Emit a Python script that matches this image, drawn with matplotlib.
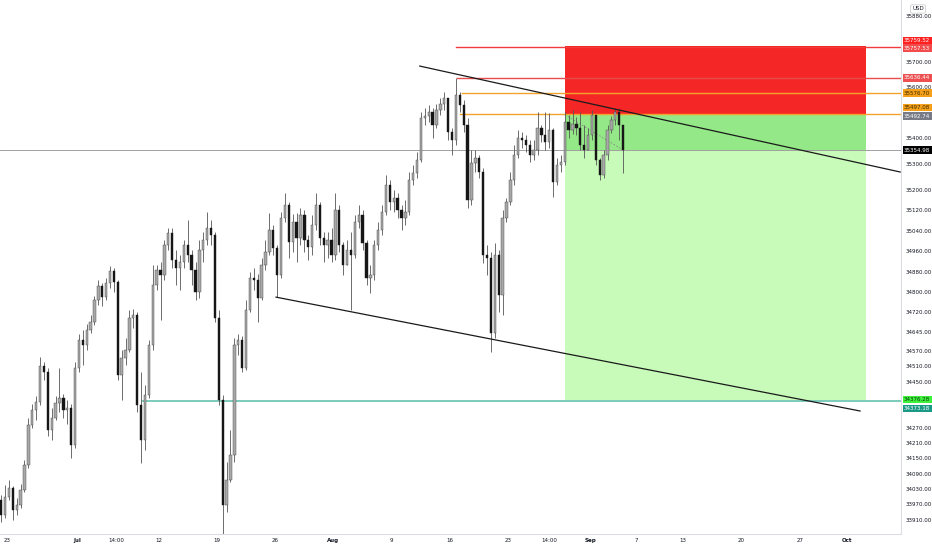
import matplotlib
matplotlib.use("Agg")
import matplotlib.pyplot as plt
import numpy as np

# 8h-ish candles, x axis in trading days counted from Jun 23
first_open = 33987
closes = [
    33928, 33999, 34034, 33948, 33967, 34026, 34124, 34280, 34339, 34370,
    34511, 34487, 34261, 34307, 34366, 34386, 34339, 34347, 34202, 34503,
    34612, 34593, 34651, 34683, 34769, 34823, 34780, 34835, 34882, 34839,
    34476, 34542, 34573, 34698, 34710, 34358, 34221, 34397, 34593, 34827,
    34886, 34866, 34984, 35030, 34925, 34894, 34917, 34984, 34944, 34886,
    34800, 34964, 35003, 35050, 35023, 34698, 34378, 33967, 34065, 34163,
    34593, 34612, 34503, 34730, 34855, 34847, 34776, 34905, 34956, 35042,
    34972, 34866, 35089, 35140, 34995, 35073, 35011, 35101, 35003, 34976,
    35062, 35140, 35011, 34984, 35003, 34944, 35120, 34984, 34905, 34964,
    34944, 35073, 35101, 34991, 34855, 34866, 34984, 35042, 35112, 35218,
    35152, 35167, 35120, 35089, 35112, 35238, 35265, 35316, 35480, 35488,
    35503, 35452, 35511, 35535, 35558, 35425, 35394, 35570, 35531, 35452,
    35159, 35304, 35324, 35269, 34944, 34933, 34640, 34944, 34788, 35089,
    35152, 35238, 35335, 35402, 35394, 35374, 35335, 35355, 35441, 35413,
    35386, 35433, 35230, 35296, 35308, 35464, 35433, 35456, 35441, 35374,
    35355, 35413, 35492, 35316, 35257, 35335, 35433, 35472, 35503, 35452,
    35354.98]
highs = [
    34006, 34046, 34065, 34042, 33995, 34049, 34143, 34307, 34362, 34393,
    34546, 34526, 34503, 34347, 34393, 34503, 34401, 34378, 34362, 34526,
    34636, 34651, 34675, 34710, 34784, 34847, 34835, 34855, 34901, 34894,
    34847, 34573, 34620, 34730, 34733, 34722, 34487, 34436, 34612, 34905,
    34905, 34917, 35003, 35050, 35050, 34964, 34944, 35003, 35081, 34964,
    34917, 35003, 35034, 35112, 35081, 35034, 34730, 34397, 34135, 34261,
    34620, 34636, 34628, 34769, 34878, 34894, 34870, 34933, 35003, 35109,
    35062, 34984, 35112, 35187, 35152, 35105, 35109, 35128, 35120, 35023,
    35101, 35187, 35152, 35034, 35034, 35050, 35187, 35140, 34995, 35003,
    35034, 35101, 35140, 35120, 35003, 34905, 35003, 35073, 35140, 35257,
    35238, 35198, 35187, 35140, 35159, 35269, 35296, 35347, 35503, 35519,
    35531, 35519, 35535, 35558, 35582, 35558, 35441, 35636, 35582, 35550,
    35480, 35355, 35355, 35335, 35284, 34984, 34956, 34991, 34964, 35120,
    35167, 35269, 35374, 35433, 35425, 35413, 35394, 35394, 35503, 35452,
    35503, 35499, 35441, 35324, 35335, 35503, 35492, 35511, 35484, 35503,
    35452, 35441, 35511, 35492, 35324, 35355, 35452, 35488, 35519, 35519,
    35452]
lows = [
    33901, 33917, 33987, 33909, 33928, 33956, 34018, 34112, 34268, 34300,
    34358, 34456, 34237, 34221, 34300, 34331, 34307, 34284, 34151, 34190,
    34487, 34515, 34573, 34640, 34671, 34749, 34745, 34769, 34815, 34800,
    34456, 34378, 34515, 34565, 34659, 34331, 34132, 34182, 34386, 34573,
    34808, 34690, 34847, 34964, 34894, 34827, 34808, 34894, 34917, 34827,
    34769, 34776, 34917, 34984, 34984, 34683, 34358, 33831, 33940, 34057,
    34135, 34554, 34487, 34495, 34722, 34808, 34683, 34769, 34886, 34944,
    34944, 34780, 34855, 35073, 34933, 34956, 34917, 34984, 34956, 34925,
    34944, 35042, 34984, 34917, 34933, 34917, 34925, 34956, 34866, 34917,
    34730, 34933, 35050, 34964, 34827, 34796, 34847, 34964, 35023, 35101,
    35120, 35112, 35089, 35042, 35062, 35101, 35218, 35245, 35308, 35452,
    35464, 35402, 35441, 35492, 35511, 35394, 35335, 35374, 35503, 35425,
    35128, 35140, 35269, 35245, 34913, 34866, 34565, 34620, 34722, 34710,
    35073, 35140, 35218, 35324, 35363, 35347, 35308, 35316, 35335, 35386,
    35355, 35363, 35171, 35218, 35269, 35296, 35402, 35417, 35413, 35355,
    35324, 35374, 35394, 35296, 35238, 35245, 35316, 35421, 35452, 35394,
    35265]

# long position tool
pos_start, pos_end = 47.86, 73.67
stop_price = 35759.52
entry_price = 35492.74
target_price = 34376.28
last_price = 35354.98

# horizontal levels: (price, start day, colour)
levels = [
    (35757.53, 38.5, "#f23b3b"),
    (35636.44, 38.6, "#e84c4c"),
    (35576.70, 39.0, "#f5a32a"),
    (35497.08, 38.85, "#f5a32a"),
    (34373.18, 11.66, "#7ccbbb"),
]
# trendlines ((day, price), (day, price))
trend_upper = [(35.4, 35683), (76.6, 35269)]
trend_lower = [(23.07, 34780), (73.16, 34335)]

x_tick_pos = [0, 6, 9.35, 13, 18, 23, 28, 33, 38, 43, 46.5, 50, 54, 58, 63, 68, 72]
x_tick_labels = ["23", "Jul", "14:00", "12", "19", "26", "Aug", "9", "16", "23",
                 "14:00", "Sep", "7", "13", "20", "27", "Oct"]
y_ticks = [35880, 35700, 35600, 35400, 35300, 35200, 35120, 35040, 34960, 34880,
           34800, 34720, 34645, 34570, 34510, 34450, 34270, 34210, 34150, 34090,
           34030, 33970, 33910]

# price scale labels: (text, price, colour, text colour, offset in points)
price_tags = [
    ("35759.52", 35759.52, "#ff2020", "white", 4.3),
    ("35757.53", 35757.53, "#f24b4b", "white", -0.9),
    ("35636.44", 35636.44, "#ec5050", "white", 0),
    ("35576.70", 35576.70, "#f5a01a", "#3a2a00", 0),
    ("35497.08", 35497.08, "#f5a01a", "#3a2a00", 4.5),
    ("35492.74", 35492.74, "#787b86", "white", -1.0),
    ("35354.98", 35354.98, "#000000", "white", 0),
    ("34376.28", 34376.28, "#3cf03c", "#0a3a0a", 0.6),
    ("34373.18", 34373.18, "#1a9a86", "white", -5.3),
]

closes = np.array(closes, dtype=float)
opens = np.concatenate([[first_open], closes[:-1]])
highs = np.maximum(np.array(highs, dtype=float), np.maximum(opens, closes))
lows = np.minimum(np.array(lows, dtype=float), np.minimum(opens, closes))
days = -0.5 + np.arange(len(closes)) / 3.0

fig = plt.figure(figsize=(9.32, 5.5), dpi=100)
ax = fig.add_axes([0, 16 / 550, 901 / 932, 534 / 550])
ax.set_xlim(-0.6, 76.67)
ax.set_ylim(33854.3, 35941.2)

# position boxes
ax.fill_between([pos_start, pos_end], entry_price, stop_price, color="#f52626", lw=0, zorder=1)
ax.fill_between([pos_start, pos_end], last_price, entry_price, color="#94e888", lw=0, zorder=1)
ax.fill_between([pos_start, pos_end], target_price, last_price, color="#c8fbb9", lw=0, zorder=1)
ax.plot([pos_start, days[-1]], [entry_price, last_price], color="#8a8a8a",
        lw=0.6, ls=(0, (2, 2)), zorder=2)

# last price line
ax.axhline(last_price, color="#a0a0a0", lw=0.7, zorder=2)

for price, start, col in levels:
    lw = 1.4 if col == "#7ccbbb" else 1.0
    ax.plot([start, 80], [price, price], color=col, lw=lw, zorder=2)

# candles
up = closes >= opens
ax.vlines(days, lows, highs, color="#555555", lw=0.6, zorder=3)
body_h = np.where(np.abs(closes - opens) < 3, 3, closes - opens)
ax.bar(days[up], body_h[up], bottom=opens[up], width=0.2,
       color="#a8a8a8", edgecolor="#444444", lw=0.3, zorder=4)
ax.bar(days[~up], body_h[~up], bottom=opens[~up], width=0.2,
       color="#161616", edgecolor="#161616", lw=0.3, zorder=4)

# trendlines
for line in (trend_upper, trend_lower):
    (x0, y0), (x1, y1) = line
    ax.plot([x0, x1], [y0, y1], color="#1a1a1a", lw=0.9, zorder=5)

# axes styling
for s in ("top", "left"):
    ax.spines[s].set_visible(False)
for s in ("bottom", "right"):
    ax.spines[s].set_color("#dcdde2")
    ax.spines[s].set_linewidth(0.8)

ax.yaxis.tick_right()
ax.set_yticks(y_ticks)
ax.set_yticklabels([f"{v:.2f}" for v in y_ticks])
ax.tick_params(axis="y", length=0, pad=3, labelsize=4, labelcolor="#131722")
ax.set_xticks(x_tick_pos)
ax.set_xticklabels(x_tick_labels)
ax.tick_params(axis="x", length=0, pad=3, labelsize=4, labelcolor="#131722")
for lab in ax.get_xticklabels():
    if lab.get_text() in ("Jul", "Aug", "Sep", "Oct"):
        lab.set_fontweight("bold")

tr = ax.get_yaxis_transform()
for text, price, col, tcol, dy in price_tags:
    ax.annotate(text, xy=(1, price), xycoords=tr, xytext=(2.2, dy),
                textcoords="offset points", ha="left", va="center",
                fontsize=4, color=tcol, annotation_clip=False, zorder=10,
                bbox=dict(boxstyle="square,pad=0.25", fc=col, ec="none"))

fig.text(918 / 932, 1 - 9 / 550, "USD", fontsize=4, color="#131722",
         ha="center", va="center",
         bbox=dict(boxstyle="round,pad=0.3", fc="white", ec="#c8c8c8", lw=0.5))

fig.savefig("out.png", dpi=100, facecolor="white")
